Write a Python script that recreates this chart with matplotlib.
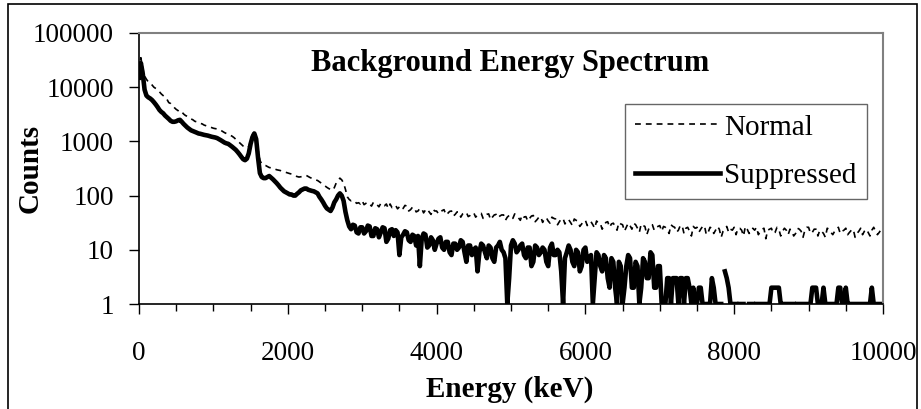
import numpy as np
import matplotlib
matplotlib.use("Agg")
import matplotlib.pyplot as plt
from matplotlib.patches import Rectangle

# spectrum channels, 25 keV wide, starting at 0 keV (one row = 500 keV)
bin_width = 25

normal = [
    20000, 35000, 22000, 16000, 14000, 12500, 12000, 11000, 10000, 9500, 9000, 8200, 7500, 7000, 6600, 6000, 5200, 5000, 4600, 4200,
    3900, 3700, 3400, 3500, 3200, 3000, 2900, 2750, 2600, 2500, 2350, 2300, 2250, 2150, 2100, 2000, 1950, 1900, 1850, 1800,
    1750, 1720, 1700, 1650, 1600, 1520, 1450, 1400, 1350, 1300, 1250, 1180, 1100, 1020, 950, 880, 820, 780, 760, 800,
    1000, 1350, 1500, 1200, 700, 450, 380, 370, 360, 345, 330, 325, 320, 310, 300, 295, 290, 280, 275, 268,
    260, 255, 250, 240, 230, 225, 220, 222, 225, 232, 235, 225, 215, 208, 200, 195, 190, 180, 170, 160,
    150, 142, 135, 130, 125, 140, 170, 190, 210, 195, 170, 130, 95, 85, 80, 82, 78, 72, 74, 70,
    80, 68, 72, 75, 70, 64, 75, 69, 68, 62, 72, 66, 65, 70, 58, 70, 60, 64, 66, 57,
    62, 55, 58, 66, 64, 52, 55, 61, 60, 50, 52, 58, 58, 48, 54, 57, 50, 45, 56, 52,
    52, 46, 48, 53, 55, 44, 47, 51, 52, 42, 45, 50, 50, 40, 46, 49, 49, 41, 43, 47,
    48, 40, 44, 46, 47, 38, 42, 45, 46, 36, 40, 44, 45, 39, 42, 44, 44, 35, 40, 43,
    43, 38, 46, 42, 39, 35, 44, 40, 41, 34, 38, 42, 43, 33, 36, 40, 41, 32, 38, 39,
    34, 31, 40, 38, 37, 29, 33, 37, 38, 30, 35, 36, 32, 28, 37, 35, 34, 27, 30, 34,
    35, 28, 32, 33, 29, 25, 34, 31, 31, 24, 28, 32, 33, 26, 30, 31, 27, 23, 32, 30,
    29, 22, 26, 31, 28, 24, 31, 29, 25, 21, 30, 28, 27, 19, 24, 28, 29, 23, 26, 27,
    28, 22, 27, 26, 24, 20, 29, 27, 26, 21, 23, 28, 28, 20, 25, 26, 22, 18, 27, 25,
    26, 21, 24, 27, 28, 19, 21, 26, 25, 20, 23, 27, 24, 17, 22, 25, 27, 21, 24, 23,
    26, 19, 25, 25, 23, 18, 27, 24, 20, 21, 25, 23, 26, 19, 22, 24, 25, 16, 23, 24,
    25, 20, 21, 26, 24, 18, 22, 25, 23, 19, 24, 22, 18, 20, 25, 24, 22, 17, 23, 26,
    26, 20, 21, 24, 24, 18, 23, 22, 20, 17, 25, 24, 21, 19, 22, 24, 26, 20, 22, 23,
    25, 19, 21, 23, 24, 17, 20, 22, 25, 19, 22, 24, 21, 18, 23, 26, 22, 19, 21, 24,
    24,
]

suppressed = [
    15000, 28000, 18000, 9000, 7000, 6500, 6200, 5800, 5300, 4800, 4300, 3800, 3500, 3300, 3000, 2800, 2600, 2400, 2300, 2300,
    2350, 2450, 2500, 2300, 2100, 1950, 1800, 1700, 1600, 1550, 1500, 1450, 1400, 1380, 1350, 1320, 1300, 1280, 1250, 1220,
    1200, 1180, 1150, 1100, 1050, 1000, 950, 920, 900, 850, 800, 750, 700, 640, 580, 520, 470, 450, 480, 600,
    900, 1200, 1400, 1100, 500, 260, 220, 210, 210, 220, 230, 215, 200, 185, 170, 155, 140, 130, 120, 115,
    110, 105, 105, 100, 100, 108, 115, 125, 130, 135, 135, 128, 125, 122, 120, 115, 110, 95, 85, 75,
    65, 58, 55, 52, 60, 75, 85, 100, 110, 100, 80, 50, 35, 27, 24, 29, 28, 21, 20, 26,
    26, 20, 22, 28, 27, 18, 18, 25, 24, 17, 21, 26, 25, 14, 16, 23, 24, 18, 23, 21,
    8, 17, 19, 22, 21, 15, 14, 19, 18, 12, 18, 5, 16, 20, 19, 11, 12, 17, 15, 10,
    13, 16, 17, 11, 10, 14, 14, 9, 8, 13, 13, 10, 11, 15, 14, 9, 6, 12, 12, 8,
    10, 11, 4, 9, 13, 12, 9, 7, 12, 11, 7, 6, 11, 12, 14, 10, 9, 7, 1, 3,
    12, 15, 13, 9, 10, 12, 13, 8, 7, 11, 11, 5, 6, 12, 11, 8, 9, 11, 10, 6,
    5, 11, 13, 8, 8, 10, 9, 4, 1, 7, 9, 12, 10, 6, 5, 10, 9, 4, 5, 10,
    11, 6, 7, 8, 1, 3, 9, 8, 5, 4, 8, 7, 3, 2, 7, 6, 2, 1, 6, 5,
    1, 2, 5, 8, 7, 2, 2, 6, 5, 1, 2, 7, 6, 3, 3, 9, 8, 2, 2, 5,
    5, 1, 1, 1, 3, 3, 1, 3, 3, 3, 1, 3, 3, 1, 3, 3, 2, 1, 2, 1,
    1, 2, 2, 1, 1, 1, 0, 1, 3, 2, 1, 1, 1, 1, 0, 4, 3, 2, 1, 1,
    1, 1, 0, 1, 1, 1, 0, 0, 1, 1, 1, 0, 1, 1, 1, 1, 1, 1, 1, 1,
    2, 2, 2, 2, 2, 1, 0, 1, 1, 1, 1, 1, 1, 0, 1, 1, 1, 1, 1, 1,
    1, 1, 2, 2, 2, 1, 1, 1, 2, 1, 1, 1, 1, 1, 1, 1, 2, 2, 1, 1,
    2, 1, 0, 1, 1, 1, 1, 1, 1, 1, 1, 1, 1, 1, 2, 1, 1, 1, 1, 1,
    1,
]

energy = np.arange(len(normal)) * bin_width

plt.rcParams['font.family'] = ['Liberation Serif', 'DejaVu Serif']

fig = plt.figure(figsize=(9.21, 4.09), dpi=100)
ax = fig.add_axes([139/921, 1 - 304/409, 744/921, 271/409])

ax.plot(energy, normal, color='black', lw=1.2, linestyle=(0, (3.5, 3)), label='Normal')
ax.plot(energy, suppressed, color='black', lw=3.3, label='Suppressed')

ax.set_yscale('log', nonpositive='mask')
ax.set_ylim(1, 100000)
ax.set_xlim(0, 10000)
ax.set_yticks([1, 10, 100, 1000, 10000, 100000])
ax.set_yticklabels(['1', '10', '100', '1000', '10000', '100000'])
ax.yaxis.set_minor_locator(matplotlib.ticker.NullLocator())
ax.set_xticks([0, 2000, 4000, 6000, 8000, 10000])
ax.set_xticks(np.arange(0, 10001, 500), minor=True)

ax.tick_params(axis='both', which='major', direction='out', length=7, width=1,
               labelsize=19.5, color='black')
ax.tick_params(axis='y', which='major', pad=11)
ax.tick_params(axis='x', which='major', pad=20)
ax.tick_params(axis='x', which='minor', direction='out', length=5, width=1)

for side in ['top', 'right']:
    ax.spines[side].set_color('#808080')
    ax.spines[side].set_linewidth(1.5)
for side in ['left', 'bottom']:
    ax.spines[side].set_color('black')
    ax.spines[side].set_linewidth(1.2)

ax.set_xlabel('Energy (keV)', fontsize=21, fontweight='bold')
ax.set_ylabel('Counts', fontsize=21, fontweight='bold')
ax.xaxis.set_label_coords(0.4987, -0.2657)
ax.yaxis.set_label_coords(-0.128, 0.5)

ax.text(0.4987, 0.886, 'Background Energy Spectrum', transform=ax.transAxes,
        ha='center', va='center', fontsize=22, fontweight='bold')

leg = ax.legend(loc='upper right', bbox_to_anchor=(867/921, 1 - 104/409),
                bbox_transform=fig.transFigure, borderaxespad=0, fontsize=21,
                frameon=True, fancybox=False, handlelength=2.9, handletextpad=0.15,
                labelspacing=0.75, borderpad=0.35)
leg.get_frame().set_edgecolor('#404040')
leg.get_frame().set_linewidth(1.0)

# outer chart frame (its bottom edge lies below the picture)
fig.patches.append(Rectangle((8/921, -0.02), 909/921, 1.0 - 4/409 + 0.02,
                             transform=fig.transFigure, fill=False,
                             edgecolor='black', linewidth=1.2))

fig.savefig('out.png', dpi=100)
